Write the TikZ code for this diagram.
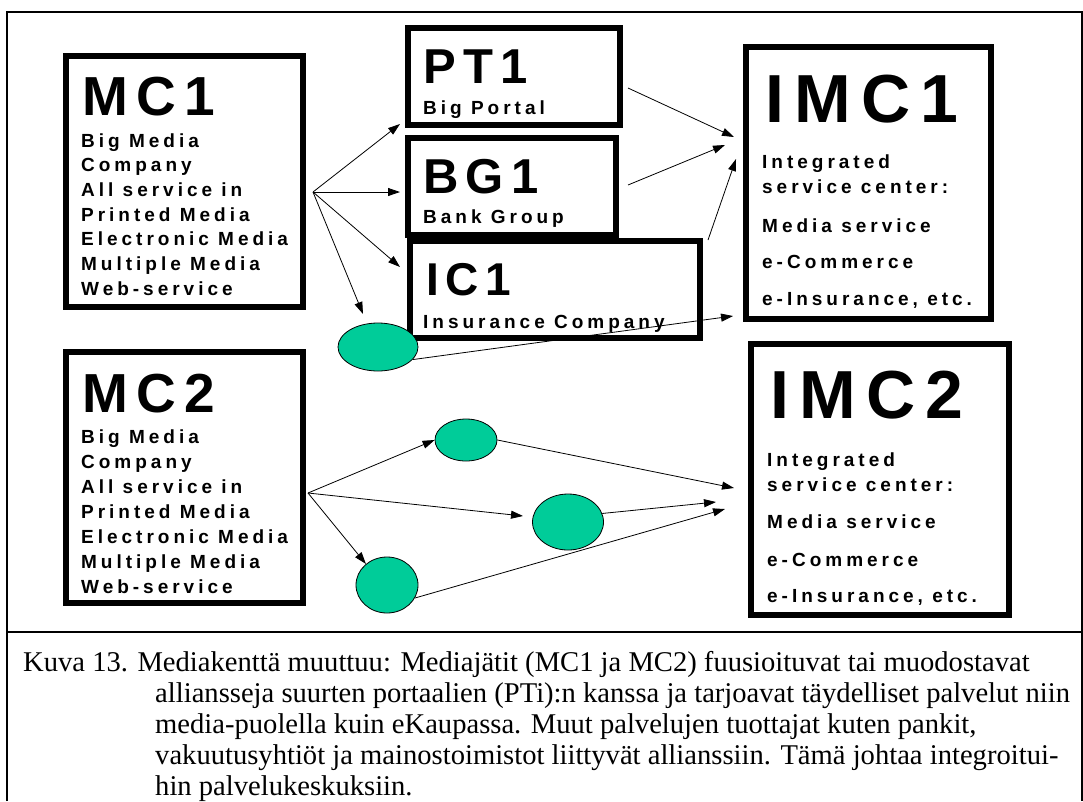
\documentclass[tikz,border=0pt]{standalone}
\usepackage{fontspec}
\setmainfont{Liberation Serif}
\newfontfamily\boxfont[LetterSpace=21]{Liberation Sans}
\newfontfamily\ttlfont[LetterSpace=15]{Liberation Sans}
\usetikzlibrary{shapes.geometric,arrows.meta}
\definecolor{ovalgreen}{HTML}{00CC99}

\begin{document}
\begin{tikzpicture}[x=1pt,y=-1pt,
  box/.style={draw,line width=6pt,inner sep=0pt,outer sep=0pt},
  ttl/.style={anchor=base west,inner sep=0pt,font=\ttlfont\bfseries\fontsize{#1}{#1}\selectfont},
  sub/.style={anchor=base west,inner sep=0pt,font=\boxfont\bfseries\fontsize{19}{22}\selectfont},
  oval/.style={draw,ellipse,fill=ovalgreen,line width=0.8pt,inner sep=0pt},
  arr/.style={-{Triangle[length=12pt,width=8pt]},line width=0.8pt},
  captxt/.style={anchor=base west,inner sep=0pt,font=\fontsize{28.6}{32}\selectfont}]
\useasboundingbox (0,0) rectangle (1083,801);
% frame and divider
\draw[line width=2.5pt] (7,801) -- (7,12) -- (1082,12) -- (1082,801);
\draw[line width=2.5pt] (7,632) -- (1082,632);

% boxes
\node[box,minimum width=237pt,minimum height=251pt] (mc1) at (184.5,181.5) {};
\node[box,minimum width=212pt,minimum height=97pt] (pt1) at (514,76.5) {};
\node[box,minimum width=208pt,minimum height=97pt] (bg1) at (512,186.5) {};
\node[box,minimum width=290pt,minimum height=97pt] (ic1) at (555,289.5) {};
\node[box,minimum width=245pt,minimum height=272pt] (imc1) at (868.5,183) {};
\node[box,minimum width=237pt,minimum height=251pt] (mc2) at (184.5,477.5) {};
\node[box,minimum width=258pt,minimum height=271pt] (imc2) at (880,479.5) {};

% box texts
\node[ttl=55] (mc1t) at (82,115) {MC1};
\foreach \t [count=\i] in {Big Media,Company,All service in,Printed Media,Electronic Media,Multiple Media,Web-service}
  \node[sub] (mc1l\i) at (81,{147+(\i-1)*24.7}) {\t};
\node[ttl=55] (mc2t) at (82,412) {MC2};
\foreach \t [count=\i] in {Big Media,Company,All service in,Printed Media,Electronic Media,Multiple Media,Web-service}
  \node[sub] (mc2l\i) at (81,{443+(\i-1)*25}) {\t};
\node[ttl=49] (pt1t) at (423,83) {PT1};
\node[sub] (pt1s) at (423,114) {Big Portal};
\node[ttl=49] (bg1t) at (423,193) {BG1};
\node[sub] (bg1s) at (423,223) {Bank Group};
\node[ttl=46] (ic1t) at (426,295) {IC1};
\node[sub] (ic1s) at (423,328) {Insurance Company};
\node[ttl=68] (imc1t) at (765,122) {IMC1};
\node[sub] (imc1a) at (762,168) {Integrated};
\node[sub] (imc1b) at (762,193) {service center:};
\node[sub] (imc1c) at (762,232) {Media service};
\node[sub] (imc1d) at (762,268) {e-Commerce};
\node[sub] (imc1e) at (762,305) {e-Insurance, etc.};
\node[ttl=68] (imc2t) at (770,418) {IMC2};
\node[sub] (imc2a) at (767,466) {Integrated};
\node[sub] (imc2b) at (767,491) {service center:};
\node[sub] (imc2c) at (767,528) {Media service};
\node[sub] (imc2d) at (767,566) {e-Commerce};
\node[sub] (imc2e) at (767,602) {e-Insurance, etc.};

% ellipses
\node[oval,minimum width=80pt,minimum height=48pt] (e1) at (378,347) {};
\node[oval,minimum width=62pt,minimum height=42pt] (e2) at (466,440) {};
\node[oval,minimum width=71pt,minimum height=56pt] (e3) at (568,522) {};
\node[oval,minimum width=62pt,minimum height=56pt] (e4) at (387,585) {};

% free ends
\coordinate (mc1out) at (313,192);
\coordinate (mc2out) at (308,493);
\coordinate (pt1in) at (400,124);
\coordinate (bg1in) at (400,192);
\coordinate (ic1in) at (400,267);
\coordinate (e1in) at (363,314);
\coordinate (e3in) at (523,516);
\coordinate (pt1out) at (628,88);
\coordinate (bg1out) at (628,185);
\coordinate (ic1out) at (708,240);
\coordinate (imc1in1) at (734,137);
\coordinate (imc1in2) at (725,145);
\coordinate (imc1in3) at (736,159);
\coordinate (imc1in4) at (733,316);
\coordinate (imc2in1) at (734,488);
\coordinate (imc2in2) at (716,502);
\coordinate (imc2in3) at (725,509);

% connectors
\draw[arr] (mc1out) -- (pt1in);
\draw[arr] (mc1out) -- (bg1in);
\draw[arr] (mc1out) -- (ic1in);
\draw[arr] (mc1out) -- (e1in);
\draw[arr] (pt1out) -- (imc1in1);
\draw[arr] (bg1out) -- (imc1in2);
\draw[arr] (ic1out) -- (imc1in3);
\draw[arr] (e1.-20) -- (imc1in4);
\draw[arr] (mc2out) -- (e2.west);
\draw[arr] (mc2out) -- (e3in);
\draw[arr] (mc2out) -- (e4.135);
\draw[arr] (e2.east) -- (imc2in1);
\draw[arr] (e3.14) -- (imc2in2);
\draw[arr] (e4.-25) -- (imc2in3);

% caption
\node[captxt] (cap1) at (23,671) {Kuva 13. Mediakenttä muuttuu: Mediajätit (MC1 ja MC2) fuusioituvat tai muodostavat};
\foreach \t [count=\i from 2] in {{alliansseja suurten portaalien (PTi):n kanssa ja tarjoavat täydelliset palvelut niin},
  {media-puolella kuin eKaupassa. Muut palvelujen tuottajat kuten pankit,},
  {vakuutusyhtiöt ja mainostoimistot liittyvät allianssiin. Tämä johtaa integroitui-},
  {hin palvelukeskuksiin.}}
  \node[captxt] (cap\i) at (155,{671+(\i-1)*31.2}) {\t};
\end{tikzpicture}
\end{document}
